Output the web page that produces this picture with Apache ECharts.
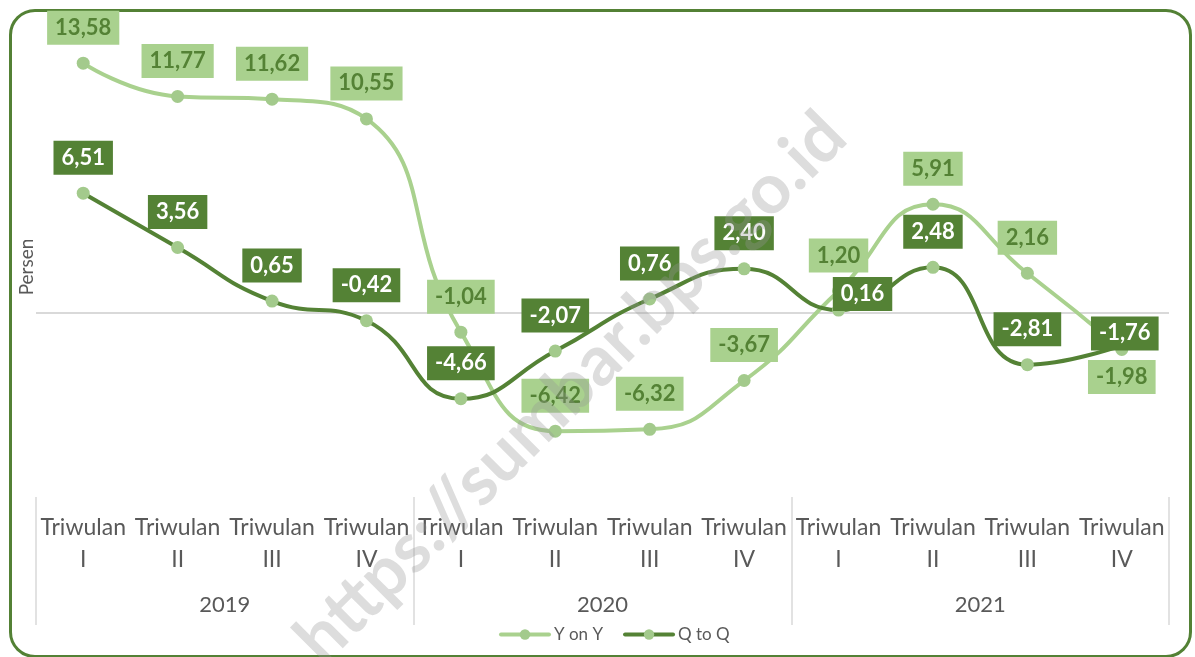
<!DOCTYPE html>
<html>
<head>
<meta charset="utf-8">
<script src="https://cdn.jsdelivr.net/npm/echarts@6/dist/echarts.min.js"></script>
<style>
  html, body { margin: 0; padding: 0; background: #fff; }
  #wrap { position: relative; width: 1195px; height: 657px; overflow: hidden; }
  #frame {
    position: absolute; left: 9px; top: 9px; width: 1177px; height: 643px;
    border: 3px solid #538135; border-radius: 26px;
  }
  #main { position: absolute; left: 0; top: 0; width: 1195px; height: 657px; }
</style>
</head>
<body>
<div id="wrap">
  <div id="frame"></div>
  <div id="main"></div>
</div>
<script>
const years = ['2019', '2020', '2021']
const quarters = ['I', 'II', 'III', 'IV']
const yoyValues = [13.58, 11.77, 11.62, 10.55, -1.04, -6.42, -6.32, -3.67, 1.20, 5.91, 2.16, -1.98]
const qtqValues = [6.51, 3.56, 0.65, -0.42, -4.66, -2.07, 0.76, 2.40, 0.16, 2.48, -2.81, -1.76]

const categories = []
for (let y in years) {
  for (let q in quarters) {
    categories.push('Triwulan\n' + quarters[q])
  }
}

const fmt = function (p) {
  return p.value.toFixed(2).replace('.', ',')
}

// labels that Excel moved off the default "above" spot
const yoyLabelFix = {
  11: { position: 'bottom', distance: 4 }
}
const qtqLabelFix = {
  8: { position: 'inside', offset: [24, -16] },
  11: { position: 'inside', offset: [3, -12] }
}

const toData = function (values, fix) {
  return values.map(function (v, i) {
    if (fix[i]) {
      return { value: v, label: fix[i] }
    }
    return v
  })
}

const chart = echarts.init(document.getElementById('main'))
const option = {
  animation: false,
  textStyle: { fontFamily: 'Lato' },
  grid: { left: 36, right: 26, top: 37, bottom: 160, containLabel: false },
  legend: {
    left: 494,
    top: 621,
    itemWidth: 48,
    itemHeight: 13,
    itemGap: 20,
    lineStyle: { width: 4 },
    textStyle: { fontFamily: 'Lato', fontSize: 17, color: '#595959' },
    data: ['Y on Y', 'Q to Q']
  },
  xAxis: [{
    type: 'category',
    data: categories,
    position: 'bottom',
    axisLine: { show: false },
    axisTick: { show: false },
    axisLabel: {
      interval: 0,
      margin: 15,
      fontFamily: 'Lato',
      fontSize: 23,
      lineHeight: 32,
      color: '#595959'
    }
  }, {
    type: 'category',
    data: years,
    position: 'bottom',
    axisLine: { show: false },
    axisTick: {
      show: true,
      interval: 0,
      length: 128,
      lineStyle: { color: '#d9d9d9', width: 1.5 }
    },
    axisLabel: {
      interval: 0,
      margin: 97,
      fontFamily: 'Lato',
      fontSize: 22,
      color: '#595959'
    }
  }],
  yAxis: {
    type: 'value',
    min: -10,
    max: 15,
    name: 'Persen',
    nameLocation: 'middle',
    nameRotate: 90,
    nameGap: 0,
    nameTextStyle: { fontFamily: 'Lato', fontSize: 19, color: '#595959' },
    axisLine: { show: false },
    axisTick: { show: false },
    axisLabel: { show: false },
    splitLine: { show: false }
  },
  series: [{
    name: 'Y on Y',
    type: 'line',
    smooth: true,
    data: toData(yoyValues, yoyLabelFix),
    symbol: 'circle',
    symbolSize: 13,
    lineStyle: { color: '#a9d18e', width: 4, cap: 'round' },
    itemStyle: { color: '#a3ca8c' },
    z: 3,
    label: {
      show: true,
      position: 'top',
      distance: 12,
      formatter: fmt,
      fontFamily: 'Lato',
      fontWeight: 'bold',
      fontSize: 22,
      color: '#548235',
      backgroundColor: '#a9d18e',
      padding: [6, 8, 6, 8]
    },
    markLine: {
      silent: true,
      symbol: 'none',
      label: { show: false },
      lineStyle: { color: '#d9d9d9', width: 2, type: 'solid' },
      data: [{ yAxis: 0 }],
      z: 1
    }
  }, {
    name: 'Q to Q',
    type: 'line',
    smooth: true,
    data: toData(qtqValues, qtqLabelFix),
    symbol: 'circle',
    symbolSize: 13,
    lineStyle: { color: '#548235', width: 4, cap: 'round' },
    itemStyle: { color: '#a3ca8c' },
    z: 4,
    label: {
      show: true,
      position: 'top',
      distance: 12,
      formatter: fmt,
      fontFamily: 'Lato',
      fontWeight: 'bold',
      fontSize: 22,
      color: '#ffffff',
      backgroundColor: '#548235',
      padding: [6, 8, 6, 8]
    }
  }],
  graphic: [{
    type: 'text',
    x: 571,
    y: 388,
    rotation: Math.PI / 4,
    z: 100,
    silent: true,
    style: {
      text: 'https://sumbar.bps.go.id',
      font: 'bold 70px Lato',
      fill: 'rgba(150,150,150,0.32)',
      align: 'center',
      verticalAlign: 'middle'
    }
  }]
}
chart.setOption(option)
</script>
</body>
</html>
